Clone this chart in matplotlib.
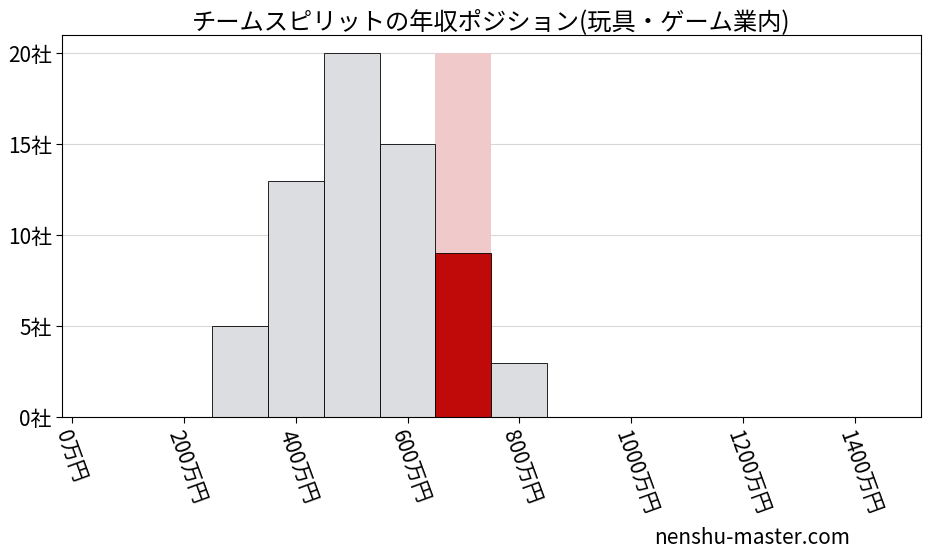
import numpy as np
from matplotlib import pyplot as plt

plt.rcParams['font.family'] = ['Noto Sans CJK JP', 'DejaVu Sans']

# 年収の階級(万円)と社数
bin_left = [250, 350, 450, 550, 650, 750]
counts = [5, 13, 20, 15, 9, 3]
bin_width = 100
# 対象企業の階級
target_left = 650
target_count = 9

xticks = [0, 200, 400, 600, 800, 1000, 1200, 1400]
yticks = [0, 5, 10, 15, 20]

title = "チームスピリットの年収ポジション(玩具・ゲーム業内)"

fig, ax = plt.subplots(figsize=(9.28, 5.57), dpi=100)
fig.subplots_adjust(left=0.067, right=0.992, top=0.937, bottom=0.251)

# 背景の強調帯
ax.bar(target_left, max(counts), width=bin_width, align='edge',
       color='#f0c9ca', zorder=1)

colors = []
for b in bin_left:
    colors.append('#c00a0a' if b == target_left else '#dcdde0')
ax.bar(bin_left, counts, width=bin_width, align='edge', color=colors,
       edgecolor='black', linewidth=0.6, zorder=2)

ax.set_xlim(-18, 1518)
ax.set_ylim(0, 21)
ax.set_xticks(xticks)
ax.set_xticklabels([str(v) + "万円" for v in xticks], rotation=-70,
                   ha='left', va='top', rotation_mode='anchor', fontsize=15)
ax.set_yticks(yticks)
ax.set_yticklabels([str(v) + "社" for v in yticks], fontsize=15)
ax.yaxis.grid(True, color='#d8d8d8', linewidth=0.8, zorder=0)
ax.set_axisbelow(True)
ax.tick_params(axis='both', length=4)

ax.set_title(title, fontsize=17.5, pad=4)

fig.text(0.81, 0.035, "nenshu-master.com", ha='center', va='center', fontsize=15)

fig.savefig("out.png", dpi=100)
